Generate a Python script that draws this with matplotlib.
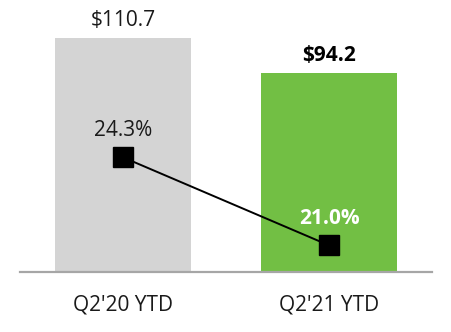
import matplotlib.pyplot as plt

categories = ["Q2'20 YTD", "Q2'21 YTD"]
revenue = [110.7, 94.2]
margin = [24.3, 21.0]
revenue_labels = ["$110.7", "$94.2"]
margin_labels = ["24.3%", "21.0%"]

plt.rcParams['font.family'] = ['Open Sans', 'DejaVu Sans']

fig = plt.figure(figsize=(4.52, 3.32), dpi=100)
ax = fig.add_axes([20 / 452, 60 / 332, 412 / 452, 272 / 332])

x = [0, 1]
ax.bar(x, revenue, width=0.66, color=['#d4d4d4', '#72bf44'])
ax.set_xlim(-0.5, 1.5)
ax.set_ylim(0, 128.7)

for side in ['top', 'right', 'left']:
    ax.spines[side].set_visible(False)
ax.spines['bottom'].set_color('#a6a6a6')
ax.spines['bottom'].set_linewidth(1.6)
ax.set_yticks([])
ax.set_xticks(x)
ax.set_xticklabels(categories, fontsize=15, color='#1a1a1a')
ax.tick_params(axis='x', length=0, pad=16)

# revenue labels above bars
ax.text(x[0], revenue[0] + 3.5, revenue_labels[0], ha='center', va='bottom',
        fontsize=15, color='#1a1a1a')
ax.text(x[1], revenue[1] + 3.5, revenue_labels[1], ha='center', va='bottom',
        fontsize=15, color='#000000', fontweight='bold')

# margin line on secondary axis
ax2 = ax.twinx()
ax2.set_ylim(20.0, 30.2)
ax2.axis('off')
ax2.plot(x, margin, color='black', linewidth=1.4, marker='s', markersize=14)
ax2.text(x[0], margin[0] + 0.6, margin_labels[0], ha='center', va='bottom',
         fontsize=15, color='#1a1a1a')
ax2.text(x[1], margin[1] + 0.6, margin_labels[1], ha='center', va='bottom',
         fontsize=15, color='white', fontweight='bold')

fig.savefig('out.png', dpi=100)
